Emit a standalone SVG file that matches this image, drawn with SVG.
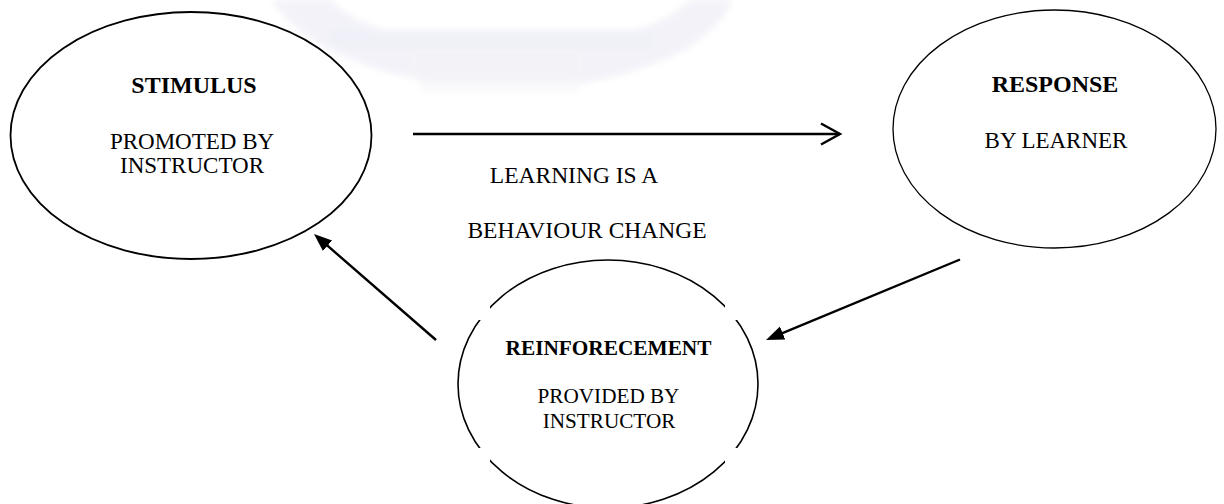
<svg xmlns="http://www.w3.org/2000/svg" width="1224" height="504" viewBox="0 0 1224 504">
  <style>
    .node { fill: none; stroke: #000; }
    .lbl { font-family: "Liberation Serif", "Times New Roman", "DejaVu Serif", serif; fill: #000; text-anchor: middle; }
    .bold { font-weight: bold; }
    .link { stroke: #000; stroke-width: 2.4; fill: none; }
  </style>
  <defs>
    <!-- filled triangular head for the return arrows -->
    <marker id="headFilled" markerUnits="userSpaceOnUse" markerWidth="20" markerHeight="16" refX="10" refY="7" orient="auto">
      <path d="M0,0 L18,7 L0,14 z" fill="#000"/>
    </marker>
    <!-- open chevron head for the stimulus-to-response arrow -->
    <marker id="headOpen" markerUnits="userSpaceOnUse" markerWidth="24" markerHeight="26" refX="20" refY="12" orient="auto">
      <path d="M1,1.5 L20,12 L1,22.5" fill="none" stroke="#000" stroke-width="2.4" stroke-linejoin="miter"/>
    </marker>
    <!-- the reinforcement ring is drawn only inside a cross-shaped window -->
    <clipPath id="ringWindow">
      <rect x="490" y="0" width="235" height="504"/>
      <rect x="0" y="320" width="1224" height="128"/>
    </clipPath>
    <filter id="soft" x="-10%" y="-30%" width="120%" height="160%">
      <feGaussianBlur stdDeviation="3"/>
    </filter>
  </defs>

  <rect x="0" y="0" width="1224" height="504" fill="#fff"/>

  <!-- faint emblem behind the top of the page -->
  <g id="emblem" filter="url(#soft)" opacity="0.3">
    <path d="M272,0 L330,0 C360,30 420,45 510,45 C600,45 660,30 690,0 L732,0 C715,45 640,85 510,90 C380,85 300,45 272,0 z" fill="#d6d6ea"/>
    <rect x="330" y="30" width="320" height="18" fill="#cfcfea"/>
    <rect x="412" y="50" width="170" height="26" fill="#dadae8"/>
    <rect x="420" y="80" width="160" height="12" fill="#ececf2"/>
  </g>

  <g id="stimulus">
    <ellipse class="node" cx="191" cy="135.5" rx="180.5" ry="123.5" stroke-width="1.8"/>
    <text class="lbl bold" x="194" y="93" font-size="24">STIMULUS</text>
    <text class="lbl" x="192" y="149" font-size="23">PROMOTED BY</text>
    <text class="lbl" x="192" y="173" font-size="23">INSTRUCTOR</text>
  </g>

  <g id="response">
    <ellipse class="node" cx="1054.5" cy="129" rx="161.5" ry="119" stroke-width="1.3"/>
    <text class="lbl bold" x="1055" y="92" font-size="24">RESPONSE</text>
    <text class="lbl" x="1056" y="148" font-size="23">BY LEARNER</text>
  </g>

  <g id="reinforcement">
    <ellipse class="node" cx="608" cy="384" rx="150" ry="124" stroke-width="1.6" clip-path="url(#ringWindow)"/>
    <text class="lbl bold" x="608.5" y="355" font-size="21.3">REINFORECEMENT</text>
    <text class="lbl" x="608.5" y="403" font-size="21.2">PROVIDED BY</text>
    <text class="lbl" x="609" y="428" font-size="21.2">INSTRUCTOR</text>
  </g>

  <g id="caption">
    <text class="lbl" x="574" y="183" font-size="23.5">LEARNING IS A</text>
    <text class="lbl" x="587" y="238" font-size="23.5">BEHAVIOUR CHANGE</text>
  </g>

  <g id="connectors">
    <line class="link" x1="413" y1="134" x2="840" y2="134" marker-end="url(#headOpen)"/>
    <line class="link" x1="960" y1="259.5" x2="773.4" y2="336.9" marker-end="url(#headFilled)"/>
    <line class="link" x1="436" y1="340" x2="320" y2="239.2" marker-end="url(#headFilled)"/>
  </g>
</svg>
